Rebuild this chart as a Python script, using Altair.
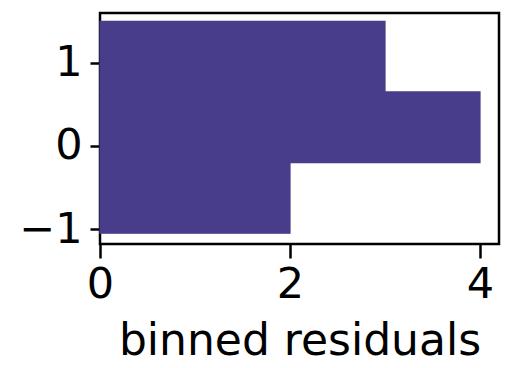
import altair as alt
import pandas as pd

bin_lo = [-1.05, -0.20, 0.65]
bin_hi = [-0.20, 0.65, 1.50]
counts = [2, 4, 3]

df = pd.DataFrame({"lo": bin_lo, "hi": bin_hi, "count": counts, "base": [0, 0, 0]})

font = "DejaVu Sans"

chart = alt.Chart(df).mark_rect(color="#483D8B", stroke="#483D8B", strokeWidth=1.2).encode(
    x=alt.X("base:Q",
            scale=alt.Scale(domain=[0, 4.2], nice=False, zero=False),
            axis=alt.Axis(title="binned residuals", values=[0, 2, 4], format="d",
                          tickSize=14, labelPadding=5, titleBaseline="alphabetic",
                          titleY=110, titleFontWeight="normal")),
    x2="count:Q",
    y=alt.Y("lo:Q",
            scale=alt.Scale(domain=[-1.18, 1.60], nice=False, zero=False),
            axis=alt.Axis(title=None, values=[-1, 0, 1], format="d",
                          tickSize=10, labelPadding=8)),
    y2="hi:Q",
).properties(
    width=399, height=231,
    background="white",
    autosize=alt.AutoSizeParams(type="none"),
    padding={"left": 92, "top": 5, "right": 6, "bottom": 120},
).configure_view(
    stroke="black", strokeWidth=2.5
).configure_axis(
    domain=False, grid=False,
    tickColor="black", tickWidth=2.5,
    labelFont=font, labelFontSize=43, labelColor="black",
    titleFont=font, titleFontSize=44, titleColor="black",
    labelFlush=False, labelOverlap=False,
)

chart.save("out.html", embed_options={"renderer": "svg", "actions": False})
